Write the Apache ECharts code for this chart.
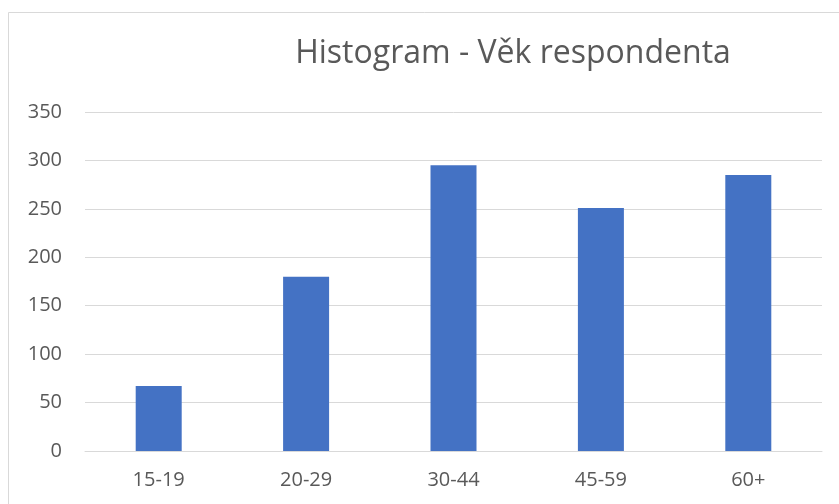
<!DOCTYPE html>
<html><head><meta charset="utf-8">
<script src="https://cdn.jsdelivr.net/npm/echarts@6/dist/echarts.min.js"></script>
<style>html,body{margin:0;padding:0;background:#fff}#c{width:839px;height:504px}</style>
</head><body><div id="c"></div>
<script>
const categories = ['15-19', '20-29', '30-44', '45-59', '60+'];
const counts = [67, 180, 295, 251, 285];
const yTicks = { min: 0, max: 350, interval: 50 };
const titleText = 'Histogram - Věk respondenta';

const chart = echarts.init(document.getElementById('c'), null, { renderer: 'canvas' });
const font = '"Open Sans", "Noto Sans", sans-serif';
chart.setOption({
  animation: false,
  backgroundColor: '#fff',
  graphic: [{
    type: 'rect', shape: { x: 8.5, y: 12.5, width: 840, height: 500 },
    style: { fill: 'none', stroke: '#d9d9d9', lineWidth: 1 }, silent: true
  }],
  title: {
    text: titleText, left: 508, top: 33, textAlign: 'center',
    textStyle: { fontFamily: font, fontSize: 32, fontWeight: 'normal', color: '#595959' }
  },
  grid: { left: 85, right: 17, top: 112, bottom: 53 },
  xAxis: {
    type: 'category', data: categories,
    axisLine: { show: true, lineStyle: { color: '#d9d9d9', width: 1 } },
    axisTick: { show: false },
    axisLabel: { color: '#595959', fontFamily: font, fontSize: 20, margin: 19 }
  },
  yAxis: {
    type: 'value', min: yTicks.min, max: yTicks.max, interval: yTicks.interval,
    axisLine: { show: false }, axisTick: { show: false },
    splitLine: { lineStyle: { color: '#d9d9d9', width: 1 } },
    axisLabel: { color: '#595959', fontFamily: font, fontSize: 20, margin: 23 }
  },
  series: [{
    type: 'bar', data: counts, barWidth: 46,
    itemStyle: { color: '#4472c4' }
  }]
});
</script></body></html>
